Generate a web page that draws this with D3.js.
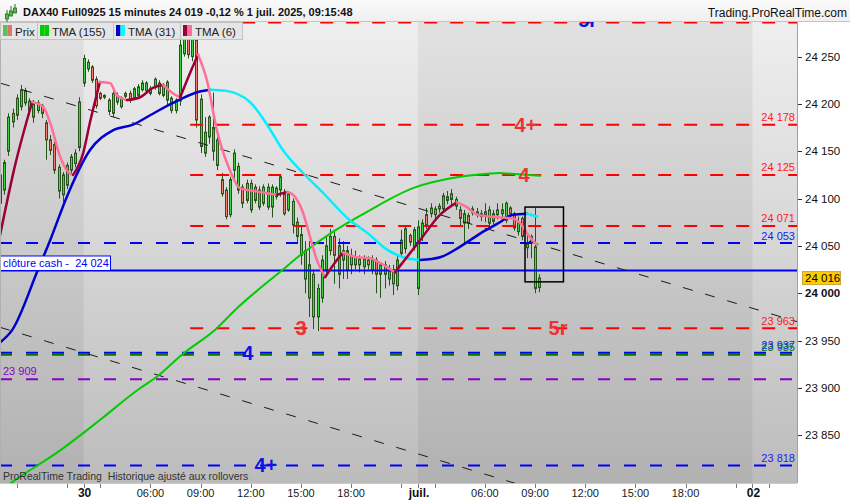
<!DOCTYPE html>
<html><head><meta charset="utf-8">
<script src="https://cdn.jsdelivr.net/npm/d3@7"></script>
<style>
body{margin:0;background:#fff}
svg{display:block;font-family:"Liberation Sans",Arial,sans-serif}
</style></head>
<body><svg id="chart" width="850" height="500"></svg>
<script>
// ---------------- DATA ----------------
const title = "DAX40 Full0925 15 minutes 24 019 -0,12 % 1 juil. 2025, 09:15:48";
const brand = "Trading.ProRealTime.com";
const footNote = "ProRealTime Trading  Historique ajusté aux rollovers";
const legendNames = ["Prix", "TMA (155)", "TMA (31)", "TMA (6)"];

// 15-minute bars (index 0 = 27 juin 17:00)
const opens = [24095,24109,24150,24181,24188,24197,24214,24193,24186,24193,24198,24180,24162,24157,24133,24104,24114,24144,24137,24154,
 24222,24237,24239,24226,24211,24207,24204,24190,24209,24197,24208,24211,24206,24209,24215,24214,24211,24218,24222,24209,
 24204,24193,24193,24203,24253,24272,24250,24268,24205,24148,24165,24150,24162,24120,24109,24083,24130,24109,24112,24098,
 24088,24098,24091,24112,24091,24091,24102,24109,24105,24088,24097,24075,24062,24045,23995,24020,23975,23995,24025,24045,
 24060,24020,24035,24045,24030,24030,24036,24028,24035,24025,24035,24020,24030,24015,24025,24008,24042,24047,24061,24049,
 24005,24060,24083,24084,24089,24089,24089,24098,24099,24092,24088,24074,24082,24085,24086,24081,24083,24088,24076,24083,
 24084,24077,24090,24084,24065,24079,24052,24053,24049,24006];
const highs = [24132,24141,24190,24195,24210,24220,24217,24206,24204,24204,24200,24183,24167,24160,24136,24128,24138,24147,24152,24207,
 24252,24247,24241,24229,24213,24210,24206,24214,24212,24208,24213,24214,24218,24221,24225,24224,24219,24228,24225,24222,
 24225,24208,24206,24278,24280,24282,24285,24280,24210,24186,24188,24212,24165,24127,24112,24123,24152,24138,24115,24120,
 24120,24115,24113,24115,24116,24115,24113,24126,24110,24108,24100,24080,24070,24055,24055,24025,24010,24040,24060,24068,
 24065,24058,24055,24050,24047,24045,24040,24040,24039,24040,24038,24033,24034,24030,24030,24040,24067,24072,24063,24070,
 24077,24078,24090,24095,24092,24095,24106,24108,24110,24102,24092,24088,24085,24092,24090,24088,24095,24092,24088,24095,
 24095,24097,24092,24086,24081,24081,24062,24062,24090,24020];
const lows = [24088,24104,24145,24175,24183,24193,24198,24188,24180,24190,24185,24141,24146,24126,24100,24096,24110,24126,24133,24150,
 24218,24234,24222,24195,24204,24205,24188,24186,24199,24195,24206,24201,24204,24207,24213,24212,24209,24215,24209,24207,
 24198,24190,24190,24198,24250,24248,24245,24175,24148,24144,24158,24140,24130,24102,24078,24080,24120,24105,24090,24095,
 24085,24095,24088,24092,24088,24080,24099,24102,24082,24086,24063,24052,24030,24000,23975,23962,23960,23990,24018,24040,
 24010,24005,24015,24015,24020,24025,24022,24020,24025,24020,24000,23995,24005,24008,23998,24003,24038,24042,24050,24045,
 23998,24055,24068,24080,24078,24085,24086,24094,24093,24088,24070,24053,24068,24082,24080,24076,24075,24070,24073,24078,
 24075,24074,24080,24066,24061,24056,24037,24037,24000,24001];
const closes = [24125,24138,24186,24190,24206,24215,24201,24203,24200,24201,24190,24162,24151,24130,24108,24125,24135,24130,24148,24202,
 24248,24244,24225,24198,24206,24209,24192,24211,24202,24206,24211,24204,24216,24218,24222,24222,24216,24226,24211,24220,
 24223,24206,24204,24262,24270,24252,24270,24183,24155,24170,24186,24175,24135,24105,24081,24120,24148,24134,24095,24116,
 24116,24112,24109,24095,24112,24112,24111,24123,24084,24105,24072,24060,24040,24015,24030,23975,24005,24035,24050,24060,
 24040,24050,24045,24025,24040,24038,24030,24036,24030,24035,24020,24030,24020,24025,24010,24035,24056,24068,24054,24067,
 24070,24074,24072,24090,24083,24092,24103,24102,24105,24099,24079,24084,24074,24089,24083,24084,24086,24074,24084,24088,
 24088,24095,24084,24069,24074,24060,24048,24060,24005,24016];

// moving averages: [bar index, value]
const tma155 = [[0,23791],[3.1,23801],[14.4,23834],[23.9,23866],[33,23898],[37.6,23912],[43.5,23935],[51.9,23963],[56.2,23982],
 [67.7,24025],[71.8,24040],[79.7,24065],[87.8,24086],[98.8,24111],[110,24123],[119.6,24127],[129.2,24124]];
const tma31 = [[0,23948],[2.9,23961],[9.1,24025],[12,24056],[16,24102],[21.5,24151],[27,24172],[31.8,24178],[35.9,24188],
 [41.4,24201],[47.8,24213],[50.2,24215],[53.8,24214],[59.8,24202],[63.9,24178],[67.7,24151],[72.5,24127],[77.3,24106],
 [83.7,24077],[87.8,24064],[92.6,24046],[96.4,24038],[100.5,24035],[105.3,24038],[110,24049],[115.6,24065],[119.6,24075],
 [122.7,24083],[126.1,24084],[128.5,24081]];
const tma6 = [[0,24061],[3.6,24135],[7.7,24202],[10.3,24197],[12,24180],[14.4,24144],[16.3,24128],[17.5,24125],[19.9,24148],
 [21.5,24180],[23.9,24223],[26.3,24222],[28,24209],[30.4,24204],[33.5,24207],[36.6,24217],[39,24220],[41.4,24211],[43.1,24207],
 [45.5,24233],[47.4,24252],[49.5,24225],[51.9,24172],[55,24130],[57.4,24111],[62.2,24107],[66.3,24104],[68.7,24107],[70.1,24104],
 [72.5,24085],[74.2,24059],[75.8,24035],[77.8,24017],[80.6,24035],[82.1,24043],[85.4,24038],[88.5,24037],[90.9,24032],
 [94.5,24022],[100.5,24056],[105.3,24083],[109.3,24096],[111.7,24091],[114.1,24083],[119.6,24080],[122.7,24079],[124.4,24074],
 [126.8,24059],[128.5,24051]];

// horizontal levels
const redLevels = [24286, 24178, 24125, 24071, 23963];
const redLevelStartBar = 45.5;
const blueDashLevels = [24053, 23937, 23818];
const greenDashLevels = [23935];
const purpleDashLevels = [23909];
const cashClose = 24024;
const cashLabel = "clôture cash - ";
const lastPrice = 24016;
const rightLabelValues = [24178, 24125, 24071, 24053, 23963, 23937, 23935, 23818];
const rightLabelKinds  = ["red","red","red","blue","red","blue","green","blue"];
const leftLabelValues = [23909];

// trend lines: [bar, price] pairs
const trendLines = [[[0,24222],[190.67,23970]], [[0,23964],[190.67,23709]]];
// box drawn on the chart: bar range and price range
const boxBars = [125.6, 134.8];
const boxPrices = [24091, 24012];

// level annotations
const annoText  = ["4+", "4", "3", "5r", "4", "4+", "5r"];
const annoBar   = [125.8, 125.4, 72, 133.5, 59.3, 63.6, 140.6];
const annoPrice = [24178, 24125, 23963, 23963, 23937, 23818, 24289];
const annoKind  = ["red","red","red","red","blue","blue","blue"];

// time axis
const sessionStartBars = [0, 20, 100, 180];
const sessionStartHours = [17, 2, 2, 2];
const sessionLabels = ["", "30", "juil.", "02"];
const hourTicks = [3, 6, 9, 12, 15, 18, 21];
const hourLabels = ["", "06:00", "09:00", "12:00", "15:00", "18:00", ""];
const priceTicks = [23850, 23900, 23950, 24000, 24050, 24100, 24150, 24200, 24250];

// ---------------- DRAWING ----------------
const svg = d3.select("#chart");
const P = {l:0, r:797, t:21, b:483};
const x = d3.scaleLinear().domain([0, 190.67]).range([0, 797]);
const y = d3.scaleLinear().domain([23799.5, 24286.5]).range([483, 22]);
const fmt = d3.formatLocale({decimal:",", thousands:" ", grouping:[3], currency:["",""]}).format(",d");
const COL = {red:"#ff0000", blue:"#0000ff", green:"#007800", purple:"#8a00c8"};
const TXT = {red:"#ff1a1a", blue:"#1a1aff", green:"#007800", purple:"#8a00c8"};

const defs = svg.append("defs");
const grad = defs.append("linearGradient").attr("id","bg").attr("gradientUnits","userSpaceOnUse")
  .attr("x1",0).attr("x2",0).attr("y1",P.t).attr("y2",P.b);
grad.append("stop").attr("offset",0).attr("stop-color","#efefef");
grad.append("stop").attr("offset",1).attr("stop-color","#bcbcbc");
defs.append("clipPath").attr("id","clip").append("rect")
  .attr("x",P.l).attr("y",P.t).attr("width",P.r-P.l).attr("height",P.b-P.t);

svg.append("rect").attr("width",850).attr("height",500).attr("fill","#fff");
svg.append("rect").attr("x",P.l).attr("y",P.t).attr("width",P.r-P.l).attr("height",P.b-P.t).attr("fill","url(#bg)");

const g = svg.append("g").attr("clip-path","url(#clip)");

// alternate day shading
sessionStartBars.forEach((s,k)=>{
  if(k%2===0){
    const e = k+1<sessionStartBars.length ? sessionStartBars[k+1] : 190.67;
    g.append("rect").attr("x",x(s)).attr("y",P.t).attr("width",x(e)-x(s)).attr("height",P.b-P.t)
      .attr("fill","#000").attr("opacity",0.055);
  }
});

// candles
const wickCol = "#24561c";
opens.forEach((o,i)=>{
  const c = closes[i], up = c>=o;
  const cx = Math.round(x(i));
  g.append("line").attr("x1",cx+0.5).attr("x2",cx+0.5).attr("y1",y(highs[i])).attr("y2",y(lows[i]))
    .attr("stroke",wickCol).attr("stroke-width",1);
  const top = y(Math.max(o,c)), h = Math.max(1.5, Math.abs(y(o)-y(c)));
  g.append("rect").attr("x",cx-0.5).attr("y",top).attr("width",2).attr("height",h)
    .attr("fill",up?"#3fd03f":"#ef7f6e").attr("stroke",wickCol).attr("stroke-width",1);
});

// horizontal levels
function hline(p, x0, color, dash, w){
  g.append("line").attr("x1",x0).attr("x2",P.r).attr("y1",y(p)).attr("y2",y(p))
    .attr("stroke",color).attr("stroke-width",w).attr("stroke-dasharray",dash);
}
purpleDashLevels.forEach(p=>hline(p,0,COL.purple,"12,14",2));
blueDashLevels.forEach(p=>hline(p,0,COL.blue,"12,14",2));
greenDashLevels.forEach(p=>hline(p,0,COL.green,"12,14",2));
redLevels.forEach(p=>hline(p,x(redLevelStartBar),COL.red,"13,13",2));
hline(cashClose,0,COL.blue,null,2);

// trend lines
trendLines.forEach(t=>{
  g.append("line").attr("x1",x(t[0][0])).attr("y1",y(t[0][1])).attr("x2",x(t[1][0])).attr("y2",y(t[1][1]))
    .attr("stroke","#1a1a1a").attr("stroke-width",1).attr("stroke-dasharray","10,13");
});

// moving averages
const lineGen = d3.line().x(d=>x(d[0])).y(d=>y(d[1])).curve(d3.curveMonotoneX);
function drawMA(pts, upC, downC, w){
  const runs=[]; let cur=[pts[0]], dir=null;
  for(let k=1;k<pts.length;k++){
    const d = pts[k][1]>=pts[k-1][1];
    if(dir===null || d===dir){cur.push(pts[k]); dir=d;}
    else {runs.push({dir,pts:cur}); cur=[pts[k-1],pts[k]]; dir=d;}
  }
  runs.push({dir,pts:cur});
  runs.forEach(r=>g.append("path").attr("d",lineGen(r.pts)).attr("fill","none")
    .attr("stroke",r.dir?upC:downC).attr("stroke-width",w).attr("stroke-linecap","round"));
}
drawMA(tma155,"#00cc00","#00cc00",2);
drawMA(tma31,"#0000d0","#00f0ff",2.5);
drawMA(tma6,"#9b0038","#ff6f98",2.5);

// box
g.append("rect").attr("x",x(boxBars[0])).attr("y",y(boxPrices[0]))
  .attr("width",x(boxBars[1])-x(boxBars[0])).attr("height",y(boxPrices[1])-y(boxPrices[0]))
  .attr("fill","none").attr("stroke","#000").attr("stroke-width",1.5);

// annotations
annoText.forEach((t,k)=>{
  g.append("text").attr("x",x(annoBar[k])).attr("y",y(annoPrice[k])+7).attr("text-anchor","middle")
    .attr("font-size",20).attr("font-weight","bold").attr("fill",annoKind[k]==="red"?"#f03030":"#1010e8").text(t);
});

// right inside labels
rightLabelValues.forEach((v,k)=>{
  g.append("text").attr("x",795).attr("y",y(v)-3.5).attr("text-anchor","end").attr("font-size",11)
    .attr("fill",TXT[rightLabelKinds[k]]).text(fmt(v));
});
leftLabelValues.forEach(v=>{
  g.append("text").attr("x",3).attr("y",y(v)-4).attr("font-size",11).attr("fill",TXT.purple).text(fmt(v));
});

// cash close label
const cl = g.append("g");
cl.append("rect").attr("x",0.5).attr("y",y(cashClose)-14.5).attr("width",110).attr("height",14.5)
  .attr("fill","#fff").attr("stroke",COL.blue).attr("stroke-width",1);
cl.append("text").attr("x",3).attr("y",y(cashClose)-3).attr("font-size",11).attr("fill","#0000ff")
  .attr("xml:space","preserve").text(cashLabel + " " + fmt(cashClose));

// bottom note
g.append("text").attr("x",3).attr("y",480).attr("font-size",10.5).attr("fill","#333").attr("xml:space","preserve").text(footNote);

// plot border
svg.append("line").attr("x1",P.r+0.5).attr("x2",P.r+0.5).attr("y1",P.t).attr("y2",P.b).attr("stroke","#a0a0a0");
svg.append("line").attr("x1",0.5).attr("x2",0.5).attr("y1",P.t).attr("y2",P.b).attr("stroke","#b0b0b0");
svg.append("line").attr("x1",0).attr("x2",P.r).attr("y1",P.b+0.5).attr("y2",P.b+0.5).attr("stroke","#c8c8c8");

// right price axis
priceTicks.forEach(v=>{
  svg.append("line").attr("x1",P.r+1).attr("x2",P.r+5).attr("y1",Math.round(y(v))+0.5).attr("y2",Math.round(y(v))+0.5).attr("stroke","#333");
  svg.append("text").attr("x",805).attr("y",y(v)+4).attr("font-size",11.5).attr("fill","#111")
    .attr("font-weight",v===24000?"bold":"normal").text(fmt(v));
});
svg.append("rect").attr("x",802.5).attr("y",y(lastPrice)-6.5).attr("width",38).attr("height",13)
  .attr("fill","#ffcc00").attr("stroke","#c9a640");
svg.append("text").attr("x",805).attr("y",y(lastPrice)+4).attr("font-size",11.5).attr("fill","#000").text(fmt(lastPrice));

// time axis
sessionStartBars.forEach((s,k)=>{
  const h0 = sessionStartHours[k];
  if(sessionLabels[k]){
    svg.append("line").attr("x1",Math.round(x(s))+0.5).attr("x2",Math.round(x(s))+0.5).attr("y1",P.b+1).attr("y2",P.b+5).attr("stroke","#777");
    svg.append("text").attr("x",x(s)+1).attr("y",497).attr("text-anchor","middle").attr("font-size",12)
      .attr("font-weight","bold").attr("fill","#111").text(sessionLabels[k]);
  }
  hourTicks.forEach((h,j)=>{
    if(h<=h0) return;
    const b = s + (h-h0)*4;
    if(b>190) return;
    const nxt = sessionStartBars[k+1];
    if(nxt!==undefined && b>=nxt) return;
    svg.append("line").attr("x1",Math.round(x(b))+0.5).attr("x2",Math.round(x(b))+0.5).attr("y1",P.b+1).attr("y2",P.b+5).attr("stroke","#777");
    if(hourLabels[j] && k>0){
      svg.append("text").attr("x",x(b)).attr("y",497).attr("text-anchor","middle").attr("font-size",11)
        .attr("fill","#1a1a1a").text(hourLabels[j]);
    }
  });
});

// header
const hdr = svg.append("g");
const hg = defs.append("linearGradient").attr("id","hg").attr("x1",0).attr("x2",0).attr("y1",0).attr("y2",1);
hg.append("stop").attr("offset",0).attr("stop-color","#fbfbfb");
hg.append("stop").attr("offset",1).attr("stop-color","#efefef");
hdr.append("rect").attr("width",850).attr("height",21).attr("fill","url(#hg)");
hdr.append("line").attr("x1",0).attr("x2",850).attr("y1",21.5).attr("y2",21.5).attr("stroke","#c4c4c4");
// small candle icon
[[6,9,14,24],[10,5,11,17],[14,3,8,15]].forEach(c=>{
  hdr.append("line").attr("x1",c[0]+1).attr("x2",c[0]+1).attr("y1",c[1]+1).attr("y2",c[3]-2).attr("stroke","#2e6a20");
  hdr.append("rect").attr("x",c[0]-0.5).attr("y",c[2]).attr("width",3).attr("height",5).attr("fill","#49c249").attr("stroke","#2e6a20").attr("stroke-width",0.8);
});
hdr.append("text").attr("x",23).attr("y",16).attr("font-size",11).attr("font-weight","bold").attr("fill","#111").text(title);
hdr.append("text").attr("x",847).attr("y",17).attr("text-anchor","end").attr("font-size",12).attr("fill","#111").text(brand);

// legend
const legBoxes = [[0,37],[37,113],[113,180],[180,242]];
const legColors = [["#55c455","#e07373"],["#00cc00","#00cc00"],["#0000d0","#00ffff"],["#9b0038","#ff6f98"]];
legendNames.forEach((n,k)=>{
  const [a,b] = legBoxes[k];
  hdr.append("rect").attr("x",a+0.5).attr("y",22.5).attr("width",b-a).attr("height",17).attr("fill","#e5e5e5").attr("stroke","#c2c2c2");
  hdr.append("rect").attr("x",a+3).attr("y",25).attr("width",4.5).attr("height",11).attr("fill",legColors[k][0]);
  hdr.append("rect").attr("x",a+7.5).attr("y",25).attr("width",4.5).attr("height",11).attr("fill",legColors[k][1]);
  hdr.append("text").attr("x",a+15).attr("y",35.5).attr("font-size",11.5).attr("fill","#222").text(n);
});
</script>
</body></html>
